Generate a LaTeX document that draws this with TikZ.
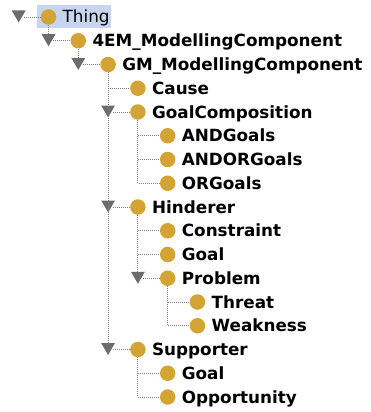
\documentclass[tikz,border=0pt]{standalone}
\usepackage{fontspec}
\setmainfont{DejaVu Sans}
\usetikzlibrary{shapes.geometric}
\begin{document}
\begin{tikzpicture}[x=1pt,y=-1pt]
  % colors
  \definecolor{kGold}{RGB}{211,163,51}
  \definecolor{kGrey}{RGB}{108,108,108}
  \definecolor{kDots}{RGB}{128,128,128}
  \definecolor{kSelect}{RGB}{197,214,238}
  \tikzset{
    cls/.style={circle,fill=kGold,minimum size=15.5pt,inner sep=0pt},
    expander/.style={regular polygon,regular polygon sides=3,shape border rotate=180,
      fill=kGrey,minimum size=16pt,inner sep=0pt},
    lbl/.style={anchor=base west,inner sep=0pt,font=\fontsize{16.8}{18}\selectfont\bfseries},
    dots/.style={draw=kDots,line width=0.9pt,dash pattern=on 0.9pt off 1.1pt}
  }
  \useasboundingbox (0,0) rectangle (371,412);
  % selection
  \fill[kSelect] (37,5) rectangle (111,28);
  % classes
  \node[cls] (thing) at (48.5,17) {};
  \node[lbl,font=\fontsize{16.8}{18}\selectfont] (thing-lbl) at (62.5,23) {Thing};
  \foreach \n/\l/\r/\t in {em/1/1/4EM\_ModellingComponent, gm/2/2/GM\_ModellingComponent,
      cause/3/3/Cause, gcomp/3/4/GoalComposition, andg/4/5/ANDGoals, andorg/4/6/ANDORGoals,
      org/4/7/ORGoals, hind/3/8/Hinderer, constr/4/9/Constraint, goala/4/10/Goal,
      prob/4/11/Problem, threat/5/12/Threat, weak/5/13/Weakness, supp/3/14/Supporter,
      goalb/4/15/Goal, opp/4/16/Opportunity}
  {
    \node[cls] (\n) at ({48.5+29.8*\l},{17+23.75*\r}) {};
    \node[lbl] (\n-lbl) at ({62.5+29.8*\l},{23+23.75*\r}) {\t};
  }
  % expanders
  \foreach \n/\l/\r in {thing/0/0, em/1/1, gm/2/2, gcomp/3/4, hind/3/8, prob/4/11, supp/3/14}
  {
    \node[expander] (t-\n) at ({18.7+29.8*\l},{14.5+23.75*\r}) {};
    \draw[dots] (t-\n.east |- \n.west) -- (\n.west);
  }
  % tree lines
  \foreach \p/\c in {thing/em, em/gm, gm/gcomp, gm/hind, gm/supp, hind/prob}
    \draw[dots] (\p.south) -- (t-\c.north);
  \foreach \p/\c in {gm/cause, gcomp/andg, gcomp/andorg, gcomp/org, hind/constr, hind/goala,
      prob/threat, prob/weak, supp/goalb, supp/opp}
    \draw[dots] (\p.south) |- (\c.west);
\end{tikzpicture}
\end{document}
